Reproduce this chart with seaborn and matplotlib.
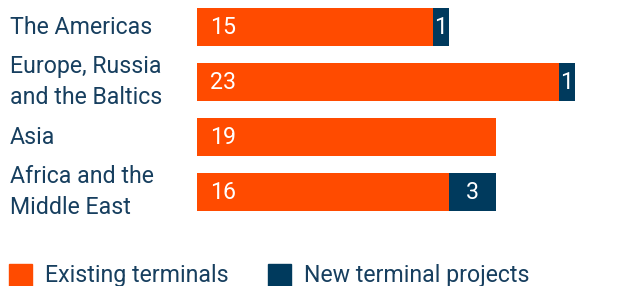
import matplotlib
matplotlib.use("Agg")
import matplotlib.pyplot as plt
from matplotlib.patches import Rectangle
from matplotlib.transforms import blended_transform_factory
import seaborn as sns
import pandas as pd

regions = ["The Americas", "Europe, Russia\nand the Baltics", "Asia", "Africa and the\nMiddle East"]
existing = [15, 23, 19, 16]
new_projects = [1, 1, 0, 3]
legend_labels = ["Existing terminals", "New terminal projects"]

ORANGE = "#FF4B00"
NAVY = "#003A5D"
TEXT = "#173F5F"

sns.set_theme(style="white")
plt.rcParams["font.family"] = ["Roboto", "DejaVu Sans"]

df = pd.DataFrame({"region": regions, "existing": existing, "new": new_projects})
df["total"] = df["existing"] + df["new"]

W, H = 643, 286
fig = plt.figure(figsize=(W / 100, H / 100), dpi=100)
ax = fig.add_axes([197 / W, 1 - 220 / H, (W - 197) / W, 220 / H])

sns.barplot(data=df, x="total", y="region", orient="h", color=NAVY, width=0.69,
            saturation=1, linewidth=0, ax=ax)
sns.barplot(data=df, x="existing", y="region", orient="h", color=ORANGE, width=0.69,
            saturation=1, linewidth=0, ax=ax)

ax.set_xlim(0, 446 / 15.74)
ax.set_ylim(3.509, -0.491)
ax.set_axis_off()

fs = 16.7
for i, (e, n) in enumerate(zip(existing, new_projects)):
    ax.text(0.85, i, str(e), color="white", fontsize=fs, va="center", ha="left")
    if n > 0:
        ax.text(e + n / 2, i, str(n), color="white", fontsize=fs, va="center", ha="center")

trans = blended_transform_factory(fig.transFigure, ax.transData)
for i, r in enumerate(regions):
    fig.text(10 / W, i, r, transform=trans, color=TEXT, fontsize=fs, va="center",
             ha="left", linespacing=1.42)

# legend
for x0, label, col in [(9, legend_labels[0], ORANGE), (268, legend_labels[1], NAVY)]:
    fig.patches.append(Rectangle((x0 / W, 0), 23 / W, 22 / H, transform=fig.transFigure,
                                 color=col, figure=fig))
    fig.text((x0 + 36) / W, 4 / H, label, color=TEXT, fontsize=fs, va="baseline", ha="left")

fig.savefig("out.png", dpi=100)
